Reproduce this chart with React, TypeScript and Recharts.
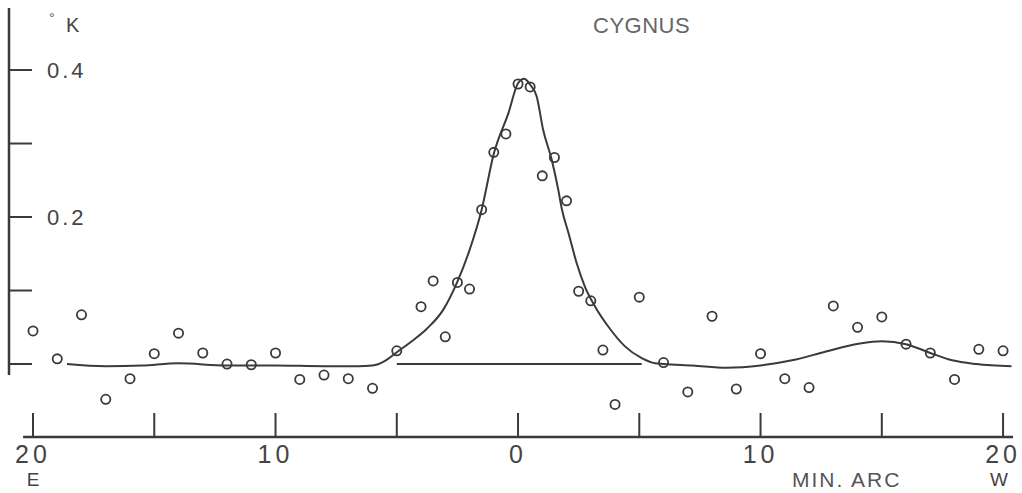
import React from "react"
import {
  ComposedChart,
  Line,
  Scatter,
  XAxis,
  YAxis,
  ReferenceLine,
} from "recharts"

// observed points: offset in min. of arc (E negative, W positive), antenna temp in °K
const obsOffset = [
  -20, -19, -18, -17, -16, -15, -14, -13, -12, -11, -10, -9, -8, -7, -6, -5,
  -4, -3.5, -3, -2.5, -2, -1.5, -1, -0.5, 0, 0.5, 1, 1.5, 2, 2.5, 3, 3.5, 4,
  5, 6, 7, 8, 9, 10, 11, 12, 13, 14, 15, 16, 17, 18, 19, 20,
]
const obsTemp = [
  0.045, 0.007, 0.067, -0.048, -0.02, 0.014, 0.042, 0.015, 0.0, -0.001, 0.015,
  -0.021, -0.015, -0.02, -0.033, 0.018, 0.078, 0.113, 0.037, 0.111, 0.102,
  0.21, 0.288, 0.313, 0.381, 0.377, 0.256, 0.281, 0.222, 0.099, 0.086, 0.019,
  -0.055, 0.091, 0.002, -0.038, 0.065, -0.034, 0.014, -0.02, -0.032, 0.079,
  0.05, 0.064, 0.027, 0.015, -0.021, 0.02, 0.018,
]

// hand-drawn fitted curve
const fitOffset = [
  -18.6, -17, -15.5, -14, -12, -10, -8, -6.6, -6, -5.5, -5, -4.3, -3.76,
  -3.08, -2.5, -2, -1.5, -1, -0.4, 0, 0.25, 0.5, 0.77, 1.04, 1.39, 1.66, 1.8,
  2.1, 2.42, 2.76, 3.18, 3.72, 4.41, 5.1, 5.65, 6, 7.2, 8.6, 10, 11.3, 12.7,
  14.1, 15, 16, 17, 17.9, 18.9, 20.35,
]
const fitTemp = [
  0.0, -0.003, -0.002, 0.001, -0.002, -0.002, -0.003, -0.003, -0.002, 0.004,
  0.016, 0.033, 0.048, 0.074, 0.112, 0.155, 0.21, 0.286, 0.341, 0.382, 0.388,
  0.38, 0.364, 0.318, 0.278, 0.237, 0.212, 0.176, 0.137, 0.105, 0.078, 0.051,
  0.024, 0.008, 0.001, 0.0, -0.002, -0.005, -0.002, 0.005, 0.017, 0.028, 0.031,
  0.027, 0.015, 0.005, 0.0, -0.003,
]

const xTicks = [-20, -15, -10, -5, 0, 5, 10, 15, 20]
const yTicks = [0, 0.1, 0.2, 0.3, 0.4]
const yLabelled = [0.2, 0.4]

const xDomain: [number, number] = [-20.99, 20.41]
const yDomain: [number, number] = [-0.0993, 0.4844]

const points = obsOffset.map((x, i) => ({ x, y: obsTemp[i] }))
const curve = fitOffset.map((x, i) => ({ x, y: fitTemp[i] }))

const ink = "#3a3a3a"
const font = "'Liberation Sans', Arial, sans-serif"

function XTick({ x, y, payload }: any) {
  const v = payload.value
  return (
    <g>
      <line x1={x} x2={x} y1={y} y2={y - 24} stroke={ink} strokeWidth={2} />
      {v % 10 === 0 && (
        <text
          x={x}
          y={y + 26}
          textAnchor="middle"
          fontSize={25}
          letterSpacing={4}
          fill="#444"
          fontFamily={font}
        >
          {Math.abs(v)}
        </text>
      )}
    </g>
  )
}

function YTick({ x, y, payload }: any) {
  const v = payload.value
  return (
    <g>
      <line x1={x} x2={x + 23} y1={y} y2={y} stroke={ink} strokeWidth={2} />
      {yLabelled.includes(v) && (
        <text
          x={x + 38}
          y={y + 8}
          fontSize={22}
          letterSpacing={3}
          fill="#444"
          fontFamily={font}
        >
          {v.toFixed(1)}
        </text>
      )}
    </g>
  )
}

function Ring({ cx, cy }: any) {
  return <circle cx={cx} cy={cy} r={4.6} fill="none" stroke={ink} strokeWidth={1.8} />
}

export default function App() {
  return (
    <div style={{ position: "absolute", left: 0, top: 0, width: 1022, height: 493, background: "#fff" }}>
      <ComposedChart
        width={1022}
        height={493}
        margin={{ top: 8, right: 9, bottom: 26, left: 8 }}
      >
        <XAxis
          type="number"
          dataKey="x"
          domain={xDomain}
          allowDataOverflow
          ticks={xTicks}
          interval={0}
          height={30}
          axisLine={false}
          tickLine={false}
          tickSize={0}
          tickMargin={0}
          tick={<XTick />}
        />
        <YAxis
          type="number"
          dataKey="y"
          domain={yDomain}
          allowDataOverflow
          ticks={yTicks}
          interval={0}
          width={1}
          axisLine={false}
          tickLine={false}
          tickSize={0}
          tickMargin={0}
          tick={<YTick />}
        />
        <ReferenceLine
          segment={[{ x: -20.41, y: yDomain[0] }, { x: 20.41, y: yDomain[0] }]}
          stroke={ink}
          strokeWidth={2.5}
          ifOverflow="visible"
        />
        <ReferenceLine
          segment={[{ x: xDomain[0], y: -0.015 }, { x: xDomain[0], y: yDomain[1] }]}
          stroke={ink}
          strokeWidth={2.5}
          ifOverflow="visible"
        />
        <ReferenceLine
          segment={[{ x: -5, y: 0 }, { x: 5.1, y: 0 }]}
          stroke={ink}
          strokeWidth={1.8}
          ifOverflow="visible"
        />
        <Line
          data={curve}
          dataKey="y"
          type="monotone"
          stroke={ink}
          strokeWidth={2}
          dot={false}
          activeDot={false}
          isAnimationActive={false}
        />
        <Scatter
          data={points}
          dataKey="y"
          shape={<Ring />}
          isAnimationActive={false}
        />
      </ComposedChart>
      <svg
        width={1022}
        height={493}
        style={{ position: "absolute", left: 0, top: 0, pointerEvents: "none" }}
        fontFamily={font}
      >
        <text x={49} y={23} fontSize={14} fill="#555">°</text>
        <text x={66} y={32} fontSize={20} fill="#444">K</text>
        <text x={593} y={33} fontSize={22} fill="#666" letterSpacing={0.5}>CYGNUS</text>
        <text x={33} y={486} fontSize={19} fill="#444" textAnchor="middle">E</text>
        <text x={792} y={487} fontSize={21} fill="#555" letterSpacing={2}>MIN. ARC</text>
        <text x={999} y={486} fontSize={19} fill="#444" textAnchor="middle">W</text>
      </svg>
    </div>
  )
}
